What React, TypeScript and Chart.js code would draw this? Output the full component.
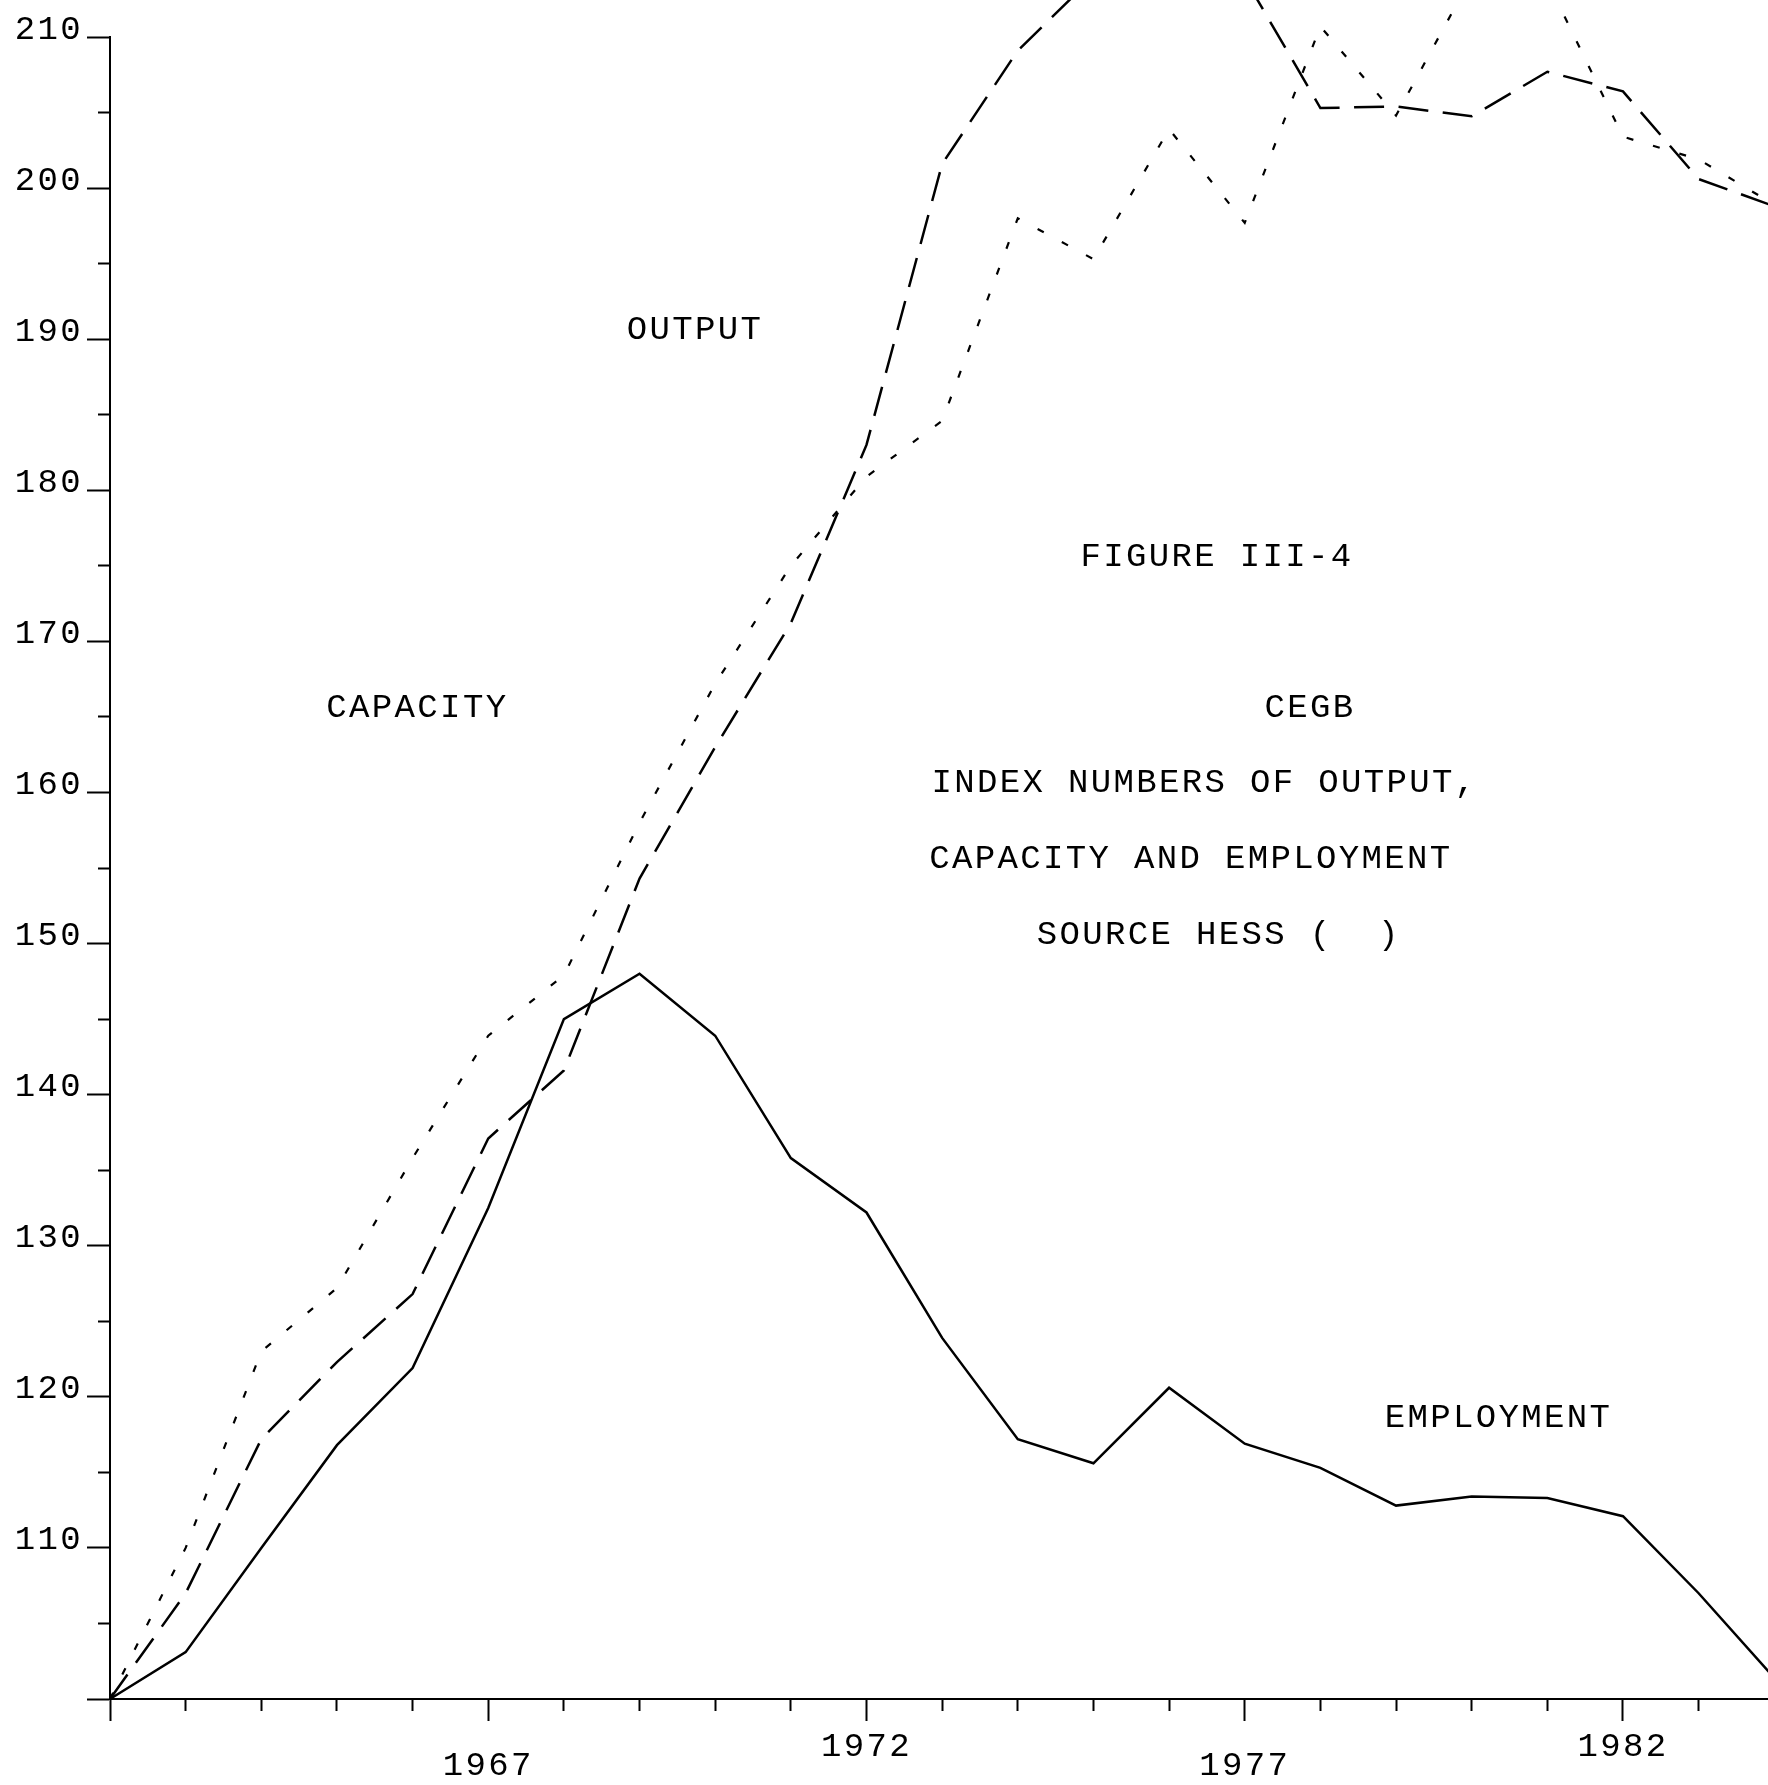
import React, { useEffect, useRef } from 'react';
import { Chart, registerables } from 'chart.js';

Chart.register(...registerables);

// ---- data ----
const YEARS = [1962, 1963, 1964, 1965, 1966, 1967, 1968, 1969, 1970, 1971, 1972, 1973, 1974, 1975, 1976, 1977, 1978, 1979, 1980, 1981, 1982, 1983, 1984];
const EMPLOYMENT = [100, 103.1, 110.0, 116.8, 121.9, 132.5, 145.0, 148.0, 143.9, 135.8, 132.2, 123.9, 117.2, 115.6, 120.6, 116.9, 115.3, 112.8, 113.4, 113.3, 112.1, 107.0, 101.4];
const OUTPUT = [100, 107.0, 117.2, 122.3, 126.8, 137.1, 141.6, 154.3, 163.0, 171.2, 183.0, 201.6, 209.1, 214.0, 215.5, 213.9, 205.3, 205.4, 204.75, 207.7, 206.4, 200.6, 198.8];
const CAPACITY = [100, 110.0, 123.0, 127.2, 135.8, 143.9, 147.9, 158.0, 167.2, 175.0, 180.9, 184.6, 198.0, 195.3, 203.9, 197.7, 210.7, 204.8, 214.0, 213.7, 203.4, 201.9, 198.9];

const X_TICKS = [1962, 1963, 1964, 1965, 1966, 1967, 1968, 1969, 1970, 1971, 1972, 1973, 1974, 1975, 1976, 1977, 1978, 1979, 1980, 1981, 1982, 1983];
const X_MAJOR = [1962, 1967, 1972, 1977, 1982];
const X_LABELS_HIGH = [1972, 1982];
const X_LABELS_LOW = [1967, 1977];
const Y_TICKS = [100, 105, 110, 115, 120, 125, 130, 135, 140, 145, 150, 155, 160, 165, 170, 175, 180, 185, 190, 195, 200, 205, 210];
const Y_LABELS = [110, 120, 130, 140, 150, 160, 170, 180, 190, 200, 210];

const X_MIN = 1962;
const X_MAX = 1983.917;
const Y_MIN = 100;
const Y_MAX = 210;

const ANNOTATION_TEXTS = ['OUTPUT', 'CAPACITY', 'FIGURE III-4', 'CEGB', 'INDEX NUMBERS OF OUTPUT,', 'CAPACITY AND EMPLOYMENT', 'SOURCE HESS (  )', 'EMPLOYMENT'];
const ANNOTATION_YEARS = [1968.83, 1964.86, 1974.83, 1977.26, 1972.86, 1972.83, 1974.25, 1978.85];
const ANNOTATION_VALUES = [190, 165, 175, 165, 160, 155, 150, 118];

// ---- styles ----
const FONT_FAMILY = '"Liberation Mono", "DejaVu Sans Mono", monospace';
const FONT_SIZE = 34;
const LETTER_SPACING = '2.35px';
const INK = '#000000';

const plotterText = {
  id: 'plotterText',
  beforeDraw(chart: any) {
    chart.ctx.letterSpacing = LETTER_SPACING;
  },
  afterDraw(chart: any) {
    const { ctx, scales } = chart;
    const xs = scales.x;
    const ys = scales.y;
    ctx.save();
    ctx.font = `${FONT_SIZE}px ${FONT_FAMILY}`;
    ctx.letterSpacing = LETTER_SPACING;
    ctx.fillStyle = INK;
    ctx.textAlign = 'left';
    ctx.textBaseline = 'alphabetic';
    ANNOTATION_TEXTS.forEach((t, i) => {
      ctx.fillText(t, xs.getPixelForValue(ANNOTATION_YEARS[i]), ys.getPixelForValue(ANNOTATION_VALUES[i]));
    });
    ctx.restore();
  },
};

export default function App() {
  const canvasRef = useRef<HTMLCanvasElement | null>(null);

  useEffect(() => {
    const canvas = canvasRef.current;
    if (!canvas) return;
    const toPoints = (arr: number[]) => YEARS.map((yr, i) => ({ x: yr, y: arr[i] }));
    const chart = new Chart(canvas, {
      type: 'line',
      data: {
        datasets: [
          {
            label: 'EMPLOYMENT',
            data: toPoints(EMPLOYMENT),
            borderColor: INK,
            borderWidth: 2.5,
            pointRadius: 0,
            tension: 0,
            fill: false,
            clip: false as any,
          },
          {
            label: 'OUTPUT',
            data: toPoints(OUTPUT),
            borderColor: INK,
            borderWidth: 2.5,
            borderDash: [30, 14.5],
            pointRadius: 0,
            tension: 0,
            fill: false,
            clip: false as any,
          },
          {
            label: 'CAPACITY',
            data: toPoints(CAPACITY),
            borderColor: INK,
            borderWidth: 2.2,
            borderDash: [7, 20.5],
            pointRadius: 0,
            tension: 0,
            fill: false,
            clip: false as any,
          },
        ],
      },
      options: {
        animation: false,
        responsive: false,
        maintainAspectRatio: false,
        events: [],
        layout: { padding: { top: 37, right: 0, left: 0, bottom: 0 } },
        plugins: {
          legend: { display: false },
          tooltip: { enabled: false },
          title: { display: false },
        },
        scales: {
          x: {
            type: 'linear',
            min: X_MIN,
            max: X_MAX,
            afterBuildTicks: (s: any) => {
              s.ticks = X_TICKS.map((v) => ({ value: v }));
            },
            afterFit: (s: any) => {
              s.height = 86;
            },
            border: { display: true, color: INK, width: 2 },
            grid: {
              display: true,
              drawOnChartArea: false,
              drawTicks: true,
              tickLength: 22,
              tickWidth: 2,
              tickColor: INK,
              tickBorderDash: (c: any) => (c.tick && X_MAJOR.includes(c.tick.value) ? [] : [11, 40]),
            } as any,
            ticks: {
              autoSkip: false,
              maxRotation: 0,
              minRotation: 0,
              padding: 16,
              color: INK,
              font: { family: FONT_FAMILY, size: FONT_SIZE, lineHeight: 0.56 },
              callback: (v: any) => {
                const n = Number(v);
                if (X_LABELS_HIGH.includes(n)) return String(n);
                if (X_LABELS_LOW.includes(n)) return ['', String(n)];
                return '';
              },
            },
          },
          y: {
            type: 'linear',
            min: Y_MIN,
            max: Y_MAX,
            afterBuildTicks: (s: any) => {
              s.ticks = Y_TICKS.map((v) => ({ value: v }));
            },
            afterFit: (s: any) => {
              s.width = 110;
            },
            border: { display: true, color: INK, width: 2 },
            grid: {
              display: true,
              drawOnChartArea: false,
              drawTicks: true,
              tickLength: 23,
              tickWidth: 2,
              tickColor: INK,
              tickBorderDash: (c: any) => (c.tick && c.tick.value % 10 === 0 ? [] : [0, 11, 40]),
            } as any,
            ticks: {
              padding: 4,
              labelOffset: -7.5,
              color: INK,
              font: { family: FONT_FAMILY, size: FONT_SIZE },
              callback: (v: any) => (Y_LABELS.includes(Number(v)) ? String(v) : ''),
            },
          },
        },
      },
      plugins: [plotterText],
    } as any);
    return () => chart.destroy();
  }, []);

  return (
    <div style={{ position: 'fixed', left: 0, top: 0, width: 1768, height: 1785, background: '#ffffff' }}>
      <canvas ref={canvasRef} width={1768} height={1785} style={{ display: 'block', width: 1768, height: 1785 }} />
    </div>
  );
}
